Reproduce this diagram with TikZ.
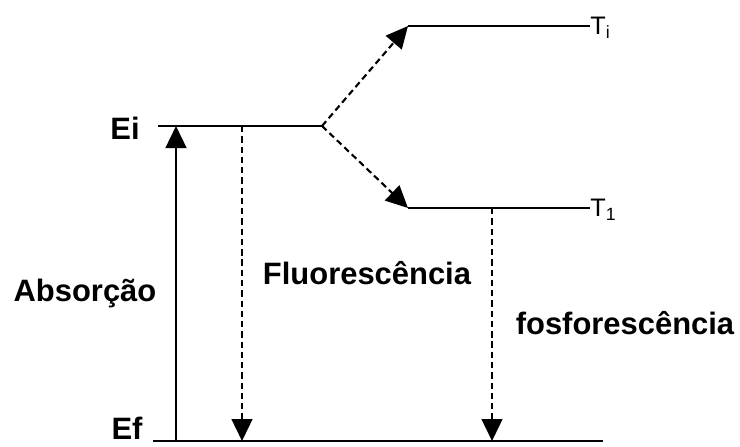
\documentclass[tikz,border=0pt]{standalone}
\usepackage{fontspec}
\setmainfont{Liberation Sans}
\usetikzlibrary{arrows.meta}

\tikzset{
  level/.style={line width=1.5pt},
  trans/.style={line width=1.5pt, -{Triangle[length=0.55cm,width=0.52cm]}},
  nonrad/.style={trans, dash pattern=on 4.5pt off 2.8pt},
  lbl/.style={font=\bfseries\fontsize{22}{26}\selectfont, inner sep=0pt},
  sublbl/.style={font=\fontsize{18}{20}\selectfont, inner sep=0pt, anchor=west}
}

\begin{document}
\begin{tikzpicture}[x=0.025cm, y=-0.025cm]
        \useasboundingbox (0,0) rectangle (740,446);
        \coordinate (EiL) at (158,126);
        \coordinate (B) at (322,126);
        \coordinate (TiL) at (408,26);
        \coordinate (TiR) at (590,26);
        \coordinate (T1L) at (408,208);
        \coordinate (T1R) at (590,208);
        \coordinate (EfL) at (153,441);
        \coordinate (EfR) at (603,441);
        \coordinate (AbsB) at (176,441);
        \coordinate (AbsT) at (176,126);
        \coordinate (FluT) at (242,126);
        \coordinate (FluB) at (242,441);
        \coordinate (FosT) at (492,208);
        \coordinate (FosB) at (492,441);

        \node[lbl] (Ei) at (125,128) {Ei};
        \node[lbl] (Ef) at (127,428) {Ef};
        \node[lbl] (Abs) at (85,293) {Absorção};
        \node[lbl] (Flu) at (367,273) {Fluorescência};
        \node[lbl] (Fos) at (625,323) {fosforescência};
        \node[sublbl] (Ti) at ([yshift=-0.05cm]TiR) {T\textsubscript{i}};
        \node[sublbl] (T1) at ([yshift=-0.05cm]T1R) {T\textsubscript{1}};

        \draw[level] (EiL) -- (B);
        \draw[level] (TiL) -- (TiR);
        \draw[level] (T1L) -- (T1R);
        \draw[level] (EfL) -- (EfR);

        \draw[trans] (AbsB) to (AbsT);
        \draw[nonrad] (FluT) to (FluB);
        \draw[nonrad] (B) to (TiL);
        \draw[nonrad] (B) to (T1L);
        \draw[nonrad] (FosT) to (FosB);
      \end{tikzpicture}
\end{document}
